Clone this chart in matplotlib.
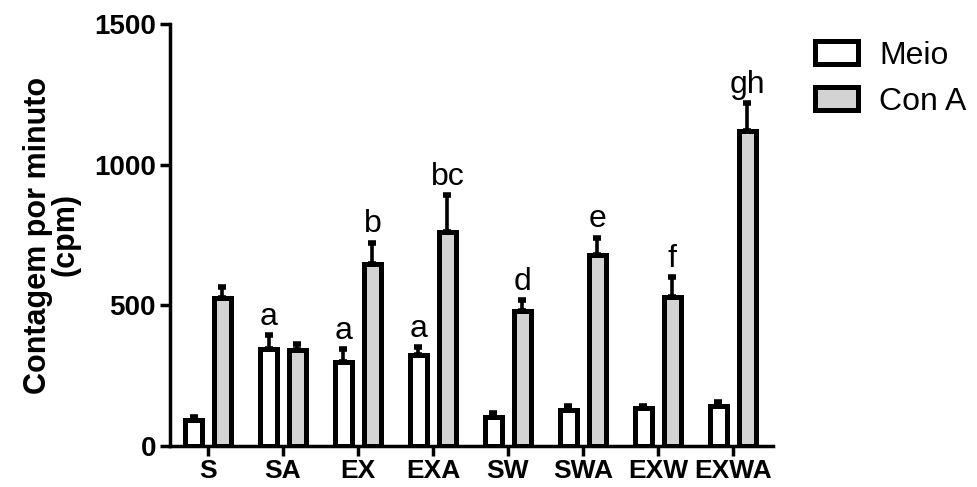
import numpy as np
import matplotlib.pyplot as plt

plt.rcParams['font.family'] = ['Liberation Sans', 'DejaVu Sans']

groups = ['S', 'SA', 'EX', 'EXA', 'SW', 'SWA', 'EXW', 'EXWA']
meio = [92, 343, 298, 323, 103, 126, 133, 142]
meio_err = [10, 50, 45, 28, 12, 14, 8, 12]
cona = [525, 341, 648, 762, 478, 680, 529, 1119]
cona_err = [40, 20, 75, 129, 40, 60, 70, 100]
meio_letters = ['', 'a', 'a', 'a', '', '', '', '']
cona_letters = ['', '', 'b', 'bc', 'd', 'e', 'f', 'gh']

x = np.arange(len(groups))
off = 0.193
w = 0.235
lw = 3.6

fig = plt.figure(figsize=(9.77, 4.87), dpi=100)
ax = fig.add_axes([0.174, 0.085, 0.617, 0.865])

ax.bar(x - off, meio, w, color='white', edgecolor='black', linewidth=lw,
       label='Meio', zorder=3)
ax.bar(x + off, cona, w, color='#d3d3d3', edgecolor='black', linewidth=lw,
       label='Con A', zorder=3)

# upper error bars only
for xs, v, e in [(x - off, meio, meio_err), (x + off, cona, cona_err)]:
    ax.errorbar(xs, v, yerr=[np.zeros(len(x)), e], fmt='none', ecolor='black',
                elinewidth=2.6, capsize=3, capthick=4, zorder=2)

for xs, v, e, letters in [(x - off, meio, meio_err, meio_letters),
                          (x + off, cona, cona_err, cona_letters)]:
    for xi, vi, ei, t in zip(xs, v, e, letters):
        if t:
            ax.text(xi, vi + ei + 12, t, ha='center', va='bottom', fontsize=23)

ax.set_xlim(-0.507, 7.533)
ax.set_ylim(0, 1500)
ax.set_yticks([0, 500, 1000, 1500])
ax.set_xticks(x)
ax.set_xticklabels(groups, fontsize=19, fontweight='bold')
for lab in ax.get_yticklabels():
    lab.set_fontsize(20)
    lab.set_fontweight('bold')

for s in ['top', 'right']:
    ax.spines[s].set_visible(False)
for s in ['left', 'bottom']:
    ax.spines[s].set_linewidth(2.5)
ax.tick_params(width=2.5, length=7, pad=3)

ax.set_ylabel('Contagem por minuto\n(cpm)', fontsize=22, fontweight='bold',
              linespacing=0.88, labelpad=10)

ax.legend(loc='upper left', bbox_to_anchor=(815 / 977, 1 - 41 / 487),
          bbox_transform=fig.transFigure, frameon=False, fontsize=23,
          handlelength=1.35, handleheight=0.72, handletextpad=0.65,
          labelspacing=0.5, borderaxespad=0, borderpad=0)

fig.savefig('out.png', dpi=100)
